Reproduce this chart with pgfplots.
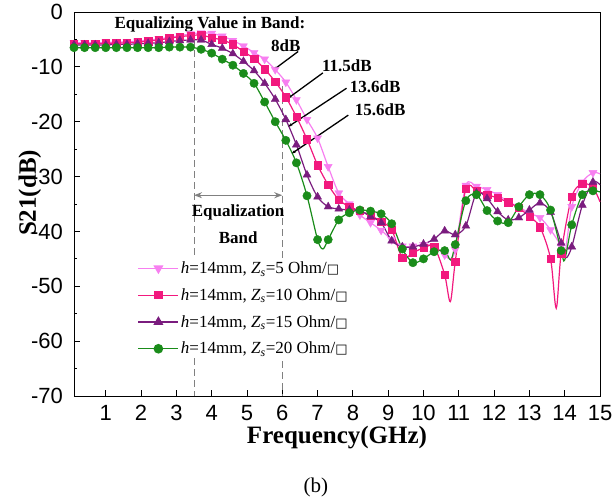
\documentclass[border=0pt]{standalone}
\usepackage{fontspec}
\setmainfont{Liberation Serif}
\newfontfamily\tickfont{Liberation Sans}
\newfontfamily\symfont{DejaVu Sans}
\usepackage{pgfplots}
\usepackage{pgfplotstable}
\pgfplotsset{compat=1.18}
\usetikzlibrary{arrows.meta}

\definecolor{zsA}{HTML}{F77FF0}
\definecolor{zsB}{HTML}{F2197E}
\definecolor{zsC}{HTML}{7A1C7E}
\definecolor{zsD}{HTML}{1A8C1A}

% columns: f (GHz), S21 (dB), m = 1 where a marker is drawn
\pgfplotstableread{
x y m
0.1 -5.6 1
0.4 -5.6 1
0.7 -5.6 1
1.0 -5.5 1
1.3 -5.5 1
1.6 -5.4 1
1.9 -5.3 1
2.2 -5.1 1
2.5 -4.9 1
2.8 -4.6 1
3.1 -4.3 1
3.4 -4.0 1
3.7 -3.8 1
4.0 -3.9 1
4.3 -4.4 1
4.6 -5.2 1
4.9 -6.2 1
5.2 -7.4 1
5.5 -8.6 1
5.8 -10.5 1
6.1 -12.8 1
6.4 -16.0 1
6.7 -19.6 1
7.0 -23.0 1
7.3 -28.2 1
7.6 -33.0 1
7.9 -35.0 1
8.2 -37.0 1
8.5 -38.4 1
8.8 -39.8 1
9.1 -41.5 1
9.4 -42.7 1
9.7 -42.7 1
10.0 -42.4 1
10.3 -42.6 1
10.6 -44.3 1
10.75 -45.0 0
10.9 -43.3 1
11.2 -31.6 1
11.5 -31.8 1
11.8 -32.4 1
12.1 -33.3 1
12.4 -34.6 1
12.7 -35.5 1
13.0 -36.7 1
13.3 -37.5 1
13.6 -39.7 1
13.9 -42.7 1
14.0 -44.5 0
14.2 -35.5 1
14.5 -31.0 1
14.8 -29.3 1
15.0 -29.5 0
}\tabA

\pgfplotstableread{
x y m
0.1 -5.8 1
0.4 -5.8 1
0.7 -5.8 1
1.0 -5.7 1
1.3 -5.7 1
1.6 -5.6 1
1.9 -5.5 1
2.2 -5.3 1
2.5 -5.1 1
2.8 -4.8 1
3.1 -4.5 1
3.4 -4.3 1
3.7 -4.2 1
4.0 -4.7 1
4.3 -5.1 1
4.6 -5.9 1
4.9 -7.2 1
5.2 -8.5 1
5.5 -10.4 1
5.8 -12.7 1
6.1 -15.5 1
6.4 -19.1 1
6.7 -23.2 1
7.0 -27.9 1
7.3 -31.5 1
7.6 -34.2 1
7.9 -35.5 1
8.2 -36.2 1
8.5 -37.1 1
8.8 -38.2 1
9.1 -39.7 1
9.4 -44.8 1
9.7 -43.9 1
10.0 -43.0 1
10.3 -42.8 1
10.6 -47.9 1
10.76 -52.8 0
10.9 -45.5 1
11.2 -32.2 1
11.5 -32.6 1
11.8 -33.3 1
12.1 -33.9 1
12.4 -34.7 1
12.7 -35.7 1
13.0 -37.3 1
13.3 -39.2 1
13.6 -45.0 1
13.76 -54.0 0
13.9 -44.0 1
14.2 -33.7 1
14.5 -31.3 1
14.8 -32.0 1
15.0 -34.6 0
}\tabB

\pgfplotstableread{
x y m
0.1 -6.0 1
0.4 -6.0 1
0.7 -6.0 1
1.0 -6.0 1
1.3 -5.9 1
1.6 -5.9 1
1.9 -5.8 1
2.2 -5.7 1
2.5 -5.6 1
2.8 -5.4 1
3.1 -5.2 1
3.4 -5.1 1
3.7 -5.1 1
4.0 -5.9 1
4.3 -6.6 1
4.6 -7.6 1
4.9 -9.0 1
5.2 -10.7 1
5.5 -13.0 1
5.8 -15.9 1
6.1 -19.6 1
6.4 -24.2 1
6.7 -29.7 1
7.0 -33.7 1
7.3 -35.5 1
7.6 -35.9 1
7.9 -36.1 1
8.2 -36.2 1
8.5 -37.3 1
8.8 -38.4 1
9.1 -41.7 1
9.4 -42.8 1
9.7 -42.8 1
10.0 -42.3 1
10.3 -41.4 1
10.6 -39.9 1
10.9 -40.6 1
11.2 -39.0 1
11.5 -33.0 1
11.8 -34.0 1
12.1 -36.4 1
12.4 -37.9 1
12.7 -37.5 1
13.0 -36.1 1
13.3 -34.8 1
13.6 -36.5 1
13.9 -42.1 1
14.03 -44.8 0
14.2 -42.8 1
14.5 -35.2 1
14.8 -31.0 1
15.0 -31.5 0
}\tabC

\pgfplotstableread{
x y m
0.1 -6.5 1
0.4 -6.5 1
0.7 -6.5 1
1.0 -6.5 1
1.3 -6.5 1
1.6 -6.5 1
1.9 -6.5 1
2.2 -6.5 1
2.5 -6.5 1
2.8 -6.4 1
3.1 -6.4 1
3.4 -6.4 1
3.7 -6.8 1
4.0 -7.5 1
4.3 -8.6 1
4.6 -9.7 1
4.9 -11.2 1
5.2 -13.0 1
5.5 -16.4 1
5.8 -20.0 1
6.1 -23.4 1
6.4 -27.5 1
6.7 -33.5 1
7.0 -41.5 1
7.15 -43.2 0
7.3 -41.5 1
7.6 -37.9 1
7.9 -36.6 1
8.2 -36.1 1
8.5 -36.3 1
8.8 -36.8 1
9.1 -38.6 1
9.4 -43.2 1
9.7 -45.7 1
10.0 -45.0 1
10.3 -43.7 1
10.6 -43.5 1
10.77 -45.2 0
10.9 -42.4 1
11.2 -34.4 1
11.5 -33.3 1
11.8 -36.2 1
12.1 -38.1 1
12.4 -38.4 1
12.7 -35.5 1
13.0 -33.3 1
13.3 -33.3 1
13.6 -36.1 1
13.9 -43.5 1
14.0 -45.2 0
14.2 -38.8 1
14.5 -33.3 1
14.8 -32.6 1
15.0 -32.8 0
}\tabD

\newcommand{\lab}[1]{\textit{h}=14mm, \textit{Z}\textsubscript{\textit{s}}=#1 Ohm/{\symfont\fontsize{13}{13}\selectfont □}}

\begin{document}
\begin{tikzpicture}
\path[use as bounding box] (-74pt,-102pt) rectangle (538pt,396pt);
\begin{axis}[
  scale only axis, width=526pt, height=384pt,
  xmin=0.1, xmax=15, ymin=-70, ymax=0,
  xtick={1,...,15}, ytick={-70,-60,...,0},
  minor y tick num=1,
  tick align=inside, tick pos=left,
  major tick length=6pt, minor tick length=3.5pt,
  axis line style={line width=0.9pt},
  every tick/.style={black, line width=0.9pt},
  /pgf/number format/assume math mode=true,
  ticklabel style={font=\tickfont\fontsize{22}{26}\selectfont},
  xticklabel style={inner sep=0pt, yshift=-9pt},
  yticklabel style={inner sep=0pt, xshift=-11pt},
  xlabel={Frequency(GHz)}, ylabel={S21(dB)},
  label style={font=\bfseries\fontsize{25}{28}\selectfont},
  xlabel style={at={(axis description cs:0.5,-0.109)}, anchor=center},
  ylabel style={at={(axis description cs:-0.084,0.529)}, anchor=center},
  clip=false,
  legend image code/.code={\draw[mark repeat=2,mark phase=2]
    plot coordinates {(0pt,0pt)(20pt,0pt)(40pt,0pt)};},
  legend style={at={(rel axis cs:0.119,0.358)}, anchor=north west,
    draw=none, fill=white, font=\fontsize{17}{20}\selectfont,
    row sep=9.5pt, inner sep=1pt},
  legend cell align=left,
]
% equalization band markers
\draw[gray, line width=0.9pt, dash pattern=on 7pt off 4pt] (axis cs:3.5,-5) -- (axis cs:3.5,-70);
\draw[gray, line width=0.9pt, dash pattern=on 7pt off 4pt] (axis cs:6,-13.5) -- (axis cs:6,-70);
\draw[gray, line width=1.3pt, {Stealth[length=8pt]}-{Stealth[length=8pt]}] (axis cs:3.5,-33.4) -- (axis cs:6,-33.4);
\node[font=\bfseries\fontsize{17}{27}\selectfont, align=center] at (axis cs:4.75,-38.6) {Equalization\\Band};

\addplot[zsA, line width=1.2pt, smooth, forget plot] table[x=x,y=y] {\tabA};
\addplot[zsB, line width=1.2pt, smooth, forget plot] table[x=x,y=y] {\tabB};
\addplot[zsC, line width=1.2pt, smooth, forget plot] table[x=x,y=y] {\tabC};
\addplot[zsD, line width=1.2pt, smooth, forget plot] table[x=x,y=y] {\tabD};
\addplot[zsA, only marks, mark=triangle*, mark size=4.6pt, every mark/.append style={rotate=180}, forget plot,
  restrict expr to domain={\thisrow{m}}{0.5:1.5}] table[x=x,y=y] {\tabA};
\addplot[zsB, only marks, mark=square*, mark size=3.7pt, forget plot,
  restrict expr to domain={\thisrow{m}}{0.5:1.5}] table[x=x,y=y] {\tabB};
\addplot[zsC, only marks, mark=triangle*, mark size=4.6pt, forget plot,
  restrict expr to domain={\thisrow{m}}{0.5:1.5}] table[x=x,y=y] {\tabC};
\addplot[zsD, only marks, mark=*, mark size=4.2pt, forget plot,
  restrict expr to domain={\thisrow{m}}{0.5:1.5}] table[x=x,y=y] {\tabD};

\addlegendimage{zsA, line width=1.2pt, mark=triangle*, mark size=4.6pt, every mark/.append style={rotate=180}}
\addlegendentry{\lab{5}}
\addlegendimage{zsB, line width=1.2pt, mark=square*, mark size=3.7pt}
\addlegendentry{\lab{10}}
\addlegendimage{zsC, line width=1.2pt, mark=triangle*, mark size=4.6pt}
\addlegendentry{\lab{15}}
\addlegendimage{zsD, line width=1.2pt, mark=*, mark size=4.2pt}
\addlegendentry{\lab{20}}

% equalizing values
\node[font=\bfseries\fontsize{17}{20}\selectfont, anchor=west] at (axis cs:1.15,-2.3) {Equalizing Value in Band:};
\node[font=\bfseries\fontsize{17}{20}\selectfont] at (axis cs:6.1,-6.2) {8dB};
\node[font=\bfseries\fontsize{17}{20}\selectfont] at (axis cs:7.83,-9.8) {11.5dB};
\node[font=\bfseries\fontsize{17}{20}\selectfont] at (axis cs:8.63,-13.6) {13.6dB};
\node[font=\bfseries\fontsize{17}{20}\selectfont] at (axis cs:8.77,-17.9) {15.6dB};
\draw[line width=1.3pt, -{Stealth[length=4pt]}] (axis cs:6.45,-7.2) -- (axis cs:5.74,-10.6);
\draw[line width=1.3pt, -{Stealth[length=4pt]}] (axis cs:7.15,-11.1) -- (axis cs:6.17,-15.7);
\draw[line width=1.3pt, -{Stealth[length=4pt]}] (axis cs:7.82,-13.9) -- (axis cs:6.17,-20.9);
\draw[line width=1.3pt, -{Stealth[length=4pt]}] (axis cs:7.87,-18.8) -- (axis cs:6.27,-25.8);

\node[font=\fontsize{21}{24}\selectfont] at (axis description cs:0.46,-0.237) {(b)};
\end{axis}
\end{tikzpicture}
\end{document}
